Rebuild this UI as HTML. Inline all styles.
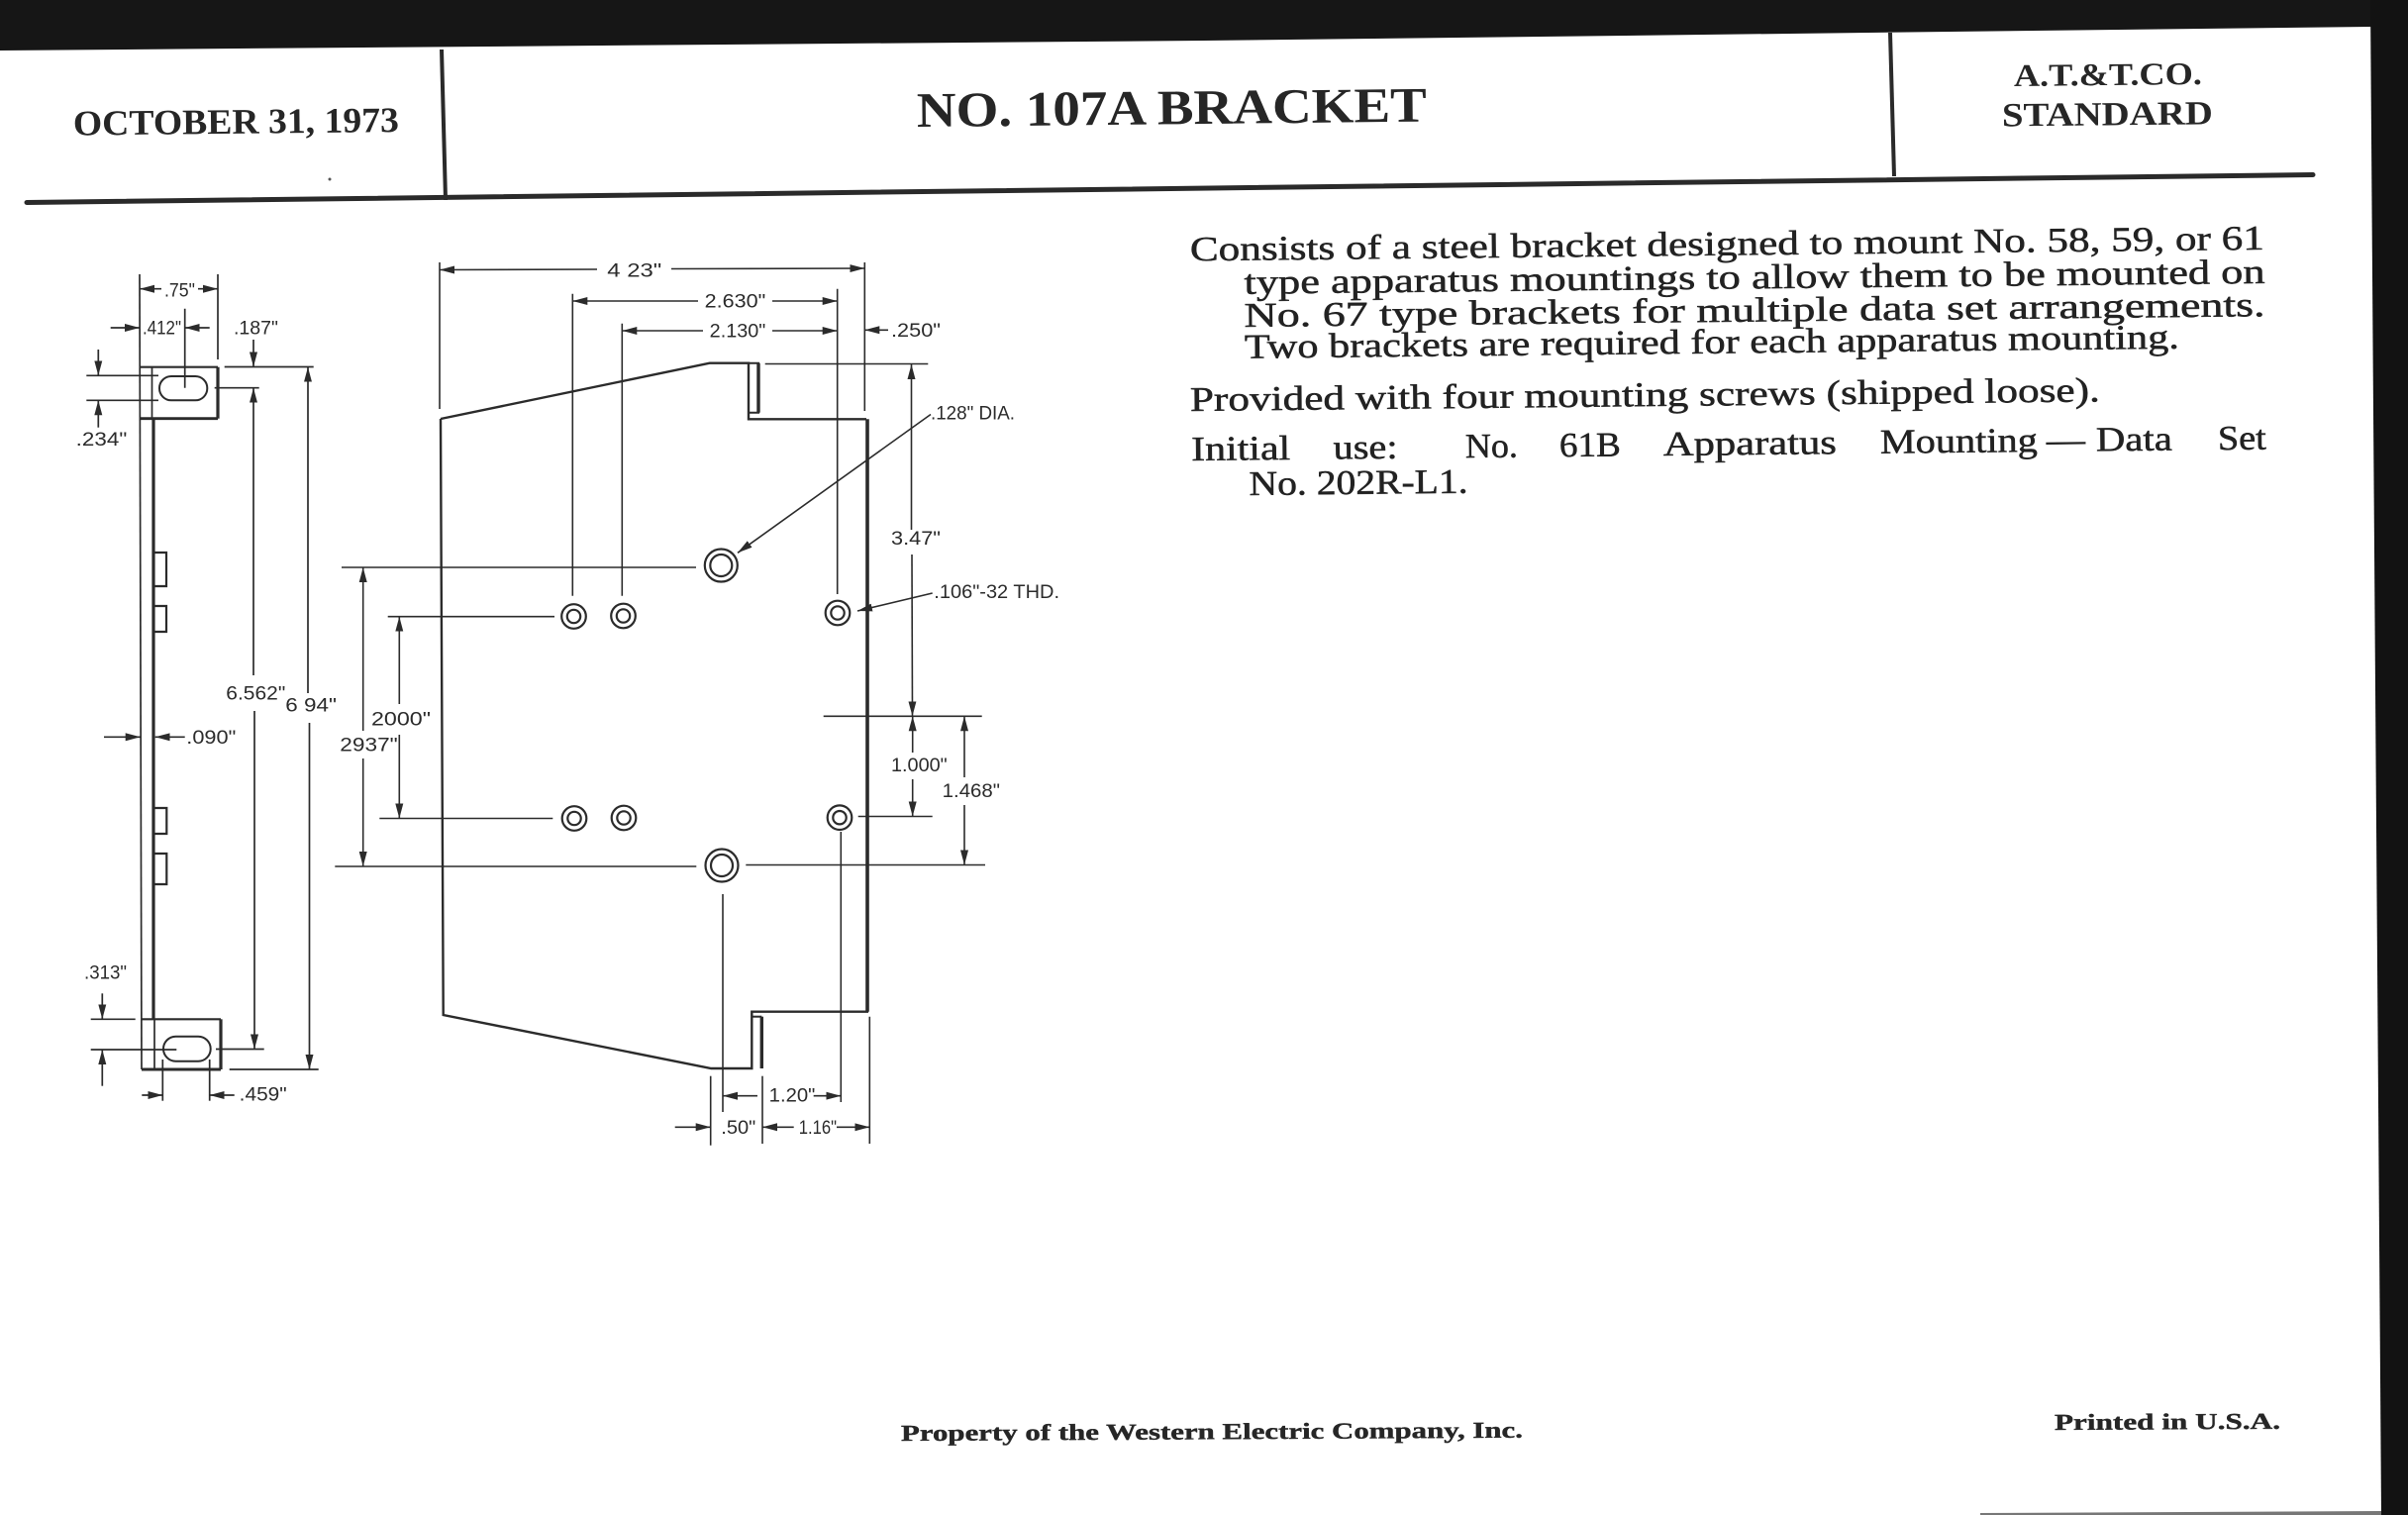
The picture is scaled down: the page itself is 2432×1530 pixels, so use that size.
<!DOCTYPE html>
<html>
<head>
<meta charset="utf-8">
<style>
html,body{margin:0;padding:0;background:#fff;}
body{width:2432px;height:1530px;overflow:hidden;}
svg{display:block;}
.dim{font-family:"Liberation Sans",Arial,sans-serif;font-size:19px;fill:#2b2b2b;}
.hdr{font-family:"Liberation Serif","Times New Roman",serif;font-weight:bold;fill:#262626;}
.body{font-family:"Liberation Serif","Times New Roman",serif;font-size:35px;fill:#222;stroke:#222;stroke-width:0.5px;}
</style>
</head>
<body>
<svg width="2432" height="1530" viewBox="0 0 2432 1530" xmlns="http://www.w3.org/2000/svg">
<defs>
<marker id="a" markerUnits="userSpaceOnUse" markerWidth="16" markerHeight="10" refX="15" refY="5" orient="auto">
<path d="M0,1 L15,5 L0,9 Z" fill="#2b2b2b"/>
</marker>
</defs>
<rect x="0" y="0" width="2432" height="1530" fill="#ffffff"/>

<!-- scan borders -->
<polygon points="0,0 2432,0 2432,27 2394,27 1216,41 0,51" fill="#161616"/>
<polygon points="2394,0 2432,0 2432,1530 2405,1530" fill="#121212"/>
<polygon points="2000,1528 2405,1526 2405,1530 2000,1530" fill="#777"/>

<!-- header -->
<line x1="27" y1="204.5" x2="2336" y2="176.5" stroke="#2a2a2a" stroke-width="5" stroke-linecap="round"/>
<line x1="446" y1="50" x2="450" y2="202" stroke="#2a2a2a" stroke-width="4"/>
<line x1="1909" y1="33" x2="1913" y2="178" stroke="#2a2a2a" stroke-width="4"/>
<circle cx="333" cy="181" r="1.5" fill="#555"/>

<text class="hdr" x="74" y="136.5" font-size="36" textLength="329" lengthAdjust="spacingAndGlyphs" transform="rotate(-0.6 74 136.5)">OCTOBER 31, 1973</text>
<text class="hdr" x="926" y="128" font-size="50" textLength="515" lengthAdjust="spacingAndGlyphs" transform="rotate(-0.6 926 128)">NO. 107A BRACKET</text>
<text class="hdr" x="2034" y="87" font-size="32" textLength="190" lengthAdjust="spacingAndGlyphs" transform="rotate(-0.6 2034 87)">A.T.&amp;T.CO.</text>
<text class="hdr" x="2022" y="127.5" font-size="34" textLength="213" lengthAdjust="spacingAndGlyphs" transform="rotate(-0.6 2022 127.5)">STANDARD</text>

<!-- description text -->
<text class="body" x="1202" y="263.3" textLength="1085" lengthAdjust="spacingAndGlyphs" transform="rotate(-0.6 1202 263.3)">Consists of a steel bracket designed to mount No. 58, 59, or 61</text>
<text class="body" x="1256.7" y="296.7" textLength="1031" lengthAdjust="spacingAndGlyphs" transform="rotate(-0.6 1256.7 296.7)">type apparatus mountings to allow them to be mounted on</text>
<text class="body" x="1256.7" y="330" textLength="1031" lengthAdjust="spacingAndGlyphs" transform="rotate(-0.6 1256.7 330)">No. 67 type brackets for multiple data set arrangements.</text>
<text class="body" x="1257" y="361.7" textLength="944" lengthAdjust="spacingAndGlyphs" transform="rotate(-0.6 1257 361.7)">Two brackets are required for each apparatus mounting.</text>
<text class="body" x="1202" y="415" textLength="919" lengthAdjust="spacingAndGlyphs" transform="rotate(-0.6 1202 415)">Provided with four mounting screws (shipped loose).</text>
<g transform="rotate(-0.6 1203 465)">
<text class="body" x="1203.3" y="465" textLength="100" lengthAdjust="spacingAndGlyphs">Initial</text>
<text class="body" x="1346.7" y="465" textLength="65" lengthAdjust="spacingAndGlyphs">use:</text>
<text class="body" x="1480" y="465" textLength="53" lengthAdjust="spacingAndGlyphs">No.</text>
<text class="body" x="1575" y="465" textLength="62" lengthAdjust="spacingAndGlyphs">61B</text>
<text class="body" x="1680" y="465" textLength="175" lengthAdjust="spacingAndGlyphs">Apparatus</text>
<text class="body" x="1899" y="465" textLength="159" lengthAdjust="spacingAndGlyphs">Mounting</text>
<text class="body" x="2067" y="465" textLength="39" lengthAdjust="spacingAndGlyphs">—</text>
<text class="body" x="2117" y="465" textLength="77" lengthAdjust="spacingAndGlyphs">Data</text>
<text class="body" x="2240" y="465" textLength="49" lengthAdjust="spacingAndGlyphs">Set</text>
</g>
<text class="body" x="1261.7" y="500" textLength="221" lengthAdjust="spacingAndGlyphs" transform="rotate(-0.6 1261.7 500)">No. 202R-L1.</text>

<!-- footer -->
<text class="hdr" x="910" y="1455" font-size="23" textLength="628" lengthAdjust="spacingAndGlyphs" stroke="#262626" stroke-width="0.4" transform="rotate(-0.3 910 1455)">Property of the Western Electric Company, Inc.</text>
<text class="hdr" x="2075" y="1444" font-size="23" textLength="228" lengthAdjust="spacingAndGlyphs" stroke="#262626" stroke-width="0.4" transform="rotate(-0.3 2075 1444)">Printed in U.S.A.</text>

<!-- ================= SIDE VIEW ================= -->
<g stroke="#2b2b2b" fill="none" stroke-width="1.7">
<path d="M141 277 L143 1080"/>
<path d="M220 277 V363"/>
<path d="M186.7 311.7 V391.7"/>
<path d="M141 370.7 H220" stroke-width="2.2"/>
<path d="M220 370.7 V422.7" stroke-width="3.2"/>
<path d="M141 422.7 H220" stroke-width="2.8"/>
<path d="M153.5 370.7 V422.7"/>
<path d="M155 422.7 V1029.3" stroke-width="3.2"/>
<path d="M156 1029.3 V1080"/>
<path d="M143 1029.3 H223" stroke-width="2.2"/>
<path d="M223 1029.3 V1080" stroke-width="3.2"/>
<path d="M143 1080 H223" stroke-width="3"/>
<rect x="161" y="380" width="48.3" height="24.3" rx="12" stroke-width="2"/>
<rect x="165" y="1046.7" width="47.7" height="25" rx="12.5" stroke-width="2"/>
<path d="M155 558 H168 V592 H155" stroke-width="2.2"/>
<path d="M155 612 H168 V638 H155" stroke-width="2.2"/>
<path d="M156 816 H168.3 V842 H156" stroke-width="2.2"/>
<path d="M156 862 H168.3 V893 H156" stroke-width="2.2"/>
<!-- extension lines -->
<path d="M87.3 379.3 H160"/>
<path d="M87.3 404.3 H160"/>
<path d="M216.7 391.7 H261.7"/>
<path d="M226.7 370.5 H316.7"/>
<path d="M91.7 1029.3 H136.7"/>
<path d="M91.7 1060 H178.3"/>
<path d="M218 1059.5 H266.7"/>
<path d="M231.7 1080 H321.7"/>
<path d="M164.3 1070 V1111.7"/>
<path d="M211.7 1070 V1111.7"/>
</g>
<g stroke="#2b2b2b" fill="none" stroke-width="1.7" marker-end="url(#a)">
<line x1="163" y1="291.7" x2="141" y2="291.7"/>
<line x1="200" y1="291.7" x2="220" y2="291.7"/>
<line x1="111.7" y1="331" x2="141" y2="331"/>
<line x1="211.7" y1="331" x2="186.7" y2="331"/>
<line x1="256" y1="343" x2="256" y2="370.5"/>
<line x1="99.3" y1="353" x2="99.3" y2="379.3"/>
<line x1="99.3" y1="431.7" x2="99.3" y2="404.3"/>
<line x1="256" y1="682" x2="256" y2="391.7"/>
<line x1="257" y1="718" x2="257" y2="1059.5"/>
<line x1="311" y1="700" x2="311" y2="370.7"/>
<line x1="312.5" y1="730" x2="312.5" y2="1080"/>
<line x1="105" y1="744.3" x2="141.7" y2="744.3"/>
<line x1="186.7" y1="744.3" x2="156.7" y2="744.3"/>
<line x1="103.3" y1="1003.3" x2="103.3" y2="1029.3"/>
<line x1="103.3" y1="1096.7" x2="103.3" y2="1060"/>
<line x1="143.3" y1="1106" x2="164.3" y2="1106"/>
<line x1="236.7" y1="1106" x2="211.7" y2="1106"/>
</g>
<text class="dim" x="166" y="299.3" textLength="31" lengthAdjust="spacingAndGlyphs">.75"</text>
<text class="dim" x="144" y="337.3" textLength="39" lengthAdjust="spacingAndGlyphs">.412"</text>
<text class="dim" x="236" y="337.3" textLength="45" lengthAdjust="spacingAndGlyphs">.187"</text>
<text class="dim" x="76.7" y="450" textLength="51.6" lengthAdjust="spacingAndGlyphs">.234"</text>
<text class="dim" x="228.3" y="706.7" textLength="60" lengthAdjust="spacingAndGlyphs">6.562"</text>
<text class="dim" x="288.3" y="718.3" textLength="51.7" lengthAdjust="spacingAndGlyphs">6 94"</text>
<text class="dim" x="188.3" y="751" textLength="50" lengthAdjust="spacingAndGlyphs">.090"</text>
<text class="dim" x="85" y="988.3" textLength="43" lengthAdjust="spacingAndGlyphs">.313"</text>
<text class="dim" x="241.7" y="1111.7" textLength="48" lengthAdjust="spacingAndGlyphs">.459"</text>

<!-- ================= MAIN VIEW ================= -->
<g stroke="#2b2b2b" fill="none" stroke-width="2.4" stroke-linejoin="miter">
<path d="M445 423 L716.7 366.7 H756 V423.3 H875"/>
<path d="M877 1021.7 H759.3 V1079 H718.3 L447.7 1025 L445 423"/>
<path d="M876 423.3 V1021.7" stroke-width="3.6"/>
<path d="M756 366.7 H766 V416.7 H756" stroke-width="2"/>
<path d="M766 366.7 V416.7" stroke-width="3.4"/>
<path d="M759.3 1026.7 H769.3" stroke-width="2"/>
<path d="M769.3 1026.7 V1079" stroke-width="3.4"/>
</g>
<g stroke="#2b2b2b" fill="none" stroke-width="2.2">
<circle cx="728.3" cy="571" r="16.5"/>
<circle cx="728.3" cy="571" r="11"/>
<circle cx="729" cy="874" r="16.5"/>
<circle cx="729" cy="874" r="11"/>
<circle cx="579.5" cy="622.5" r="12.3"/>
<circle cx="579.5" cy="622.5" r="6.7"/>
<circle cx="629.5" cy="622" r="12.3"/>
<circle cx="629.5" cy="622" r="6.7"/>
<circle cx="846" cy="619" r="12.3"/>
<circle cx="846" cy="619" r="6.7"/>
<circle cx="580" cy="826.5" r="12.3"/>
<circle cx="580" cy="826.5" r="6.7"/>
<circle cx="630" cy="826" r="12.3"/>
<circle cx="630" cy="826" r="6.7"/>
<circle cx="848" cy="825.7" r="12.3"/>
<circle cx="848" cy="825.7" r="6.7"/>
</g>
<g stroke="#2b2b2b" fill="none" stroke-width="1.6">
<path d="M444 265 V413"/>
<path d="M873.3 265 V415"/>
<path d="M578.3 296.7 V601.7"/>
<path d="M628.3 326.7 V601.7"/>
<path d="M845.7 291.7 V600"/>
<path d="M772.7 367.5 H937.3"/>
<path d="M345 573 H703"/>
<path d="M391.7 622.7 H560"/>
<path d="M383.3 826.5 H558.3"/>
<path d="M338.3 875 H703.3"/>
<path d="M753.3 873.5 H995"/>
<path d="M831.7 723.3 H991.7"/>
<path d="M866.7 824.5 H941.7"/>
<path d="M730 903 V1123"/>
<path d="M849.3 840 V1113"/>
<path d="M717.7 1086.7 V1156.7"/>
<path d="M770 1086.7 V1155"/>
<path d="M878.3 1026.7 V1155"/>
</g>
<g stroke="#2b2b2b" fill="none" stroke-width="1.6" marker-end="url(#a)">
<line x1="603" y1="272" x2="444" y2="272.5"/>
<line x1="678" y1="271.5" x2="873.3" y2="271"/>
<line x1="705" y1="304" x2="578.3" y2="304"/>
<line x1="780" y1="304" x2="845.7" y2="304"/>
<line x1="710" y1="334" x2="628.3" y2="334"/>
<line x1="780" y1="334" x2="845.7" y2="334"/>
<line x1="897" y1="333.3" x2="873.3" y2="333.3"/>
<line x1="920.5" y1="535" x2="920.5" y2="368"/>
<line x1="921" y1="560" x2="921.5" y2="723.3"/>
<line x1="921.7" y1="760" x2="921.7" y2="723.3"/>
<line x1="921.7" y1="787" x2="921.7" y2="824.5"/>
<line x1="974" y1="785" x2="974" y2="723.3"/>
<line x1="974" y1="813" x2="974" y2="873.5"/>
<line x1="366.7" y1="738" x2="366.7" y2="573"/>
<line x1="366.7" y1="766" x2="366.7" y2="875"/>
<line x1="403.3" y1="711" x2="403.3" y2="622.7"/>
<line x1="403.3" y1="742" x2="403.3" y2="826.5"/>
<line x1="765" y1="1106.7" x2="730" y2="1106.7"/>
<line x1="821.7" y1="1106.7" x2="849.3" y2="1106.7"/>
<line x1="681.7" y1="1138.3" x2="717.7" y2="1138.3"/>
<line x1="801.7" y1="1138.3" x2="770" y2="1138.3"/>
<line x1="845" y1="1138.3" x2="878.3" y2="1138.3"/>
<line x1="940" y1="418.5" x2="745" y2="558.3"/>
<line x1="941.7" y1="599" x2="866" y2="617"/>
</g>
<text class="dim" x="613.3" y="279.3" textLength="55" lengthAdjust="spacingAndGlyphs">4 23"</text>
<text class="dim" x="711.7" y="310.7" textLength="61.6" lengthAdjust="spacingAndGlyphs">2.630"</text>
<text class="dim" x="716.7" y="340.7" textLength="56.6" lengthAdjust="spacingAndGlyphs">2.130"</text>
<text class="dim" x="900" y="340" textLength="50" lengthAdjust="spacingAndGlyphs">.250"</text>
<text class="dim" x="940" y="423.3" textLength="85" lengthAdjust="spacingAndGlyphs">.128" DIA.</text>
<text class="dim" x="900" y="550" textLength="50" lengthAdjust="spacingAndGlyphs">3.47"</text>
<text class="dim" x="943.3" y="604" textLength="126.7" lengthAdjust="spacingAndGlyphs">.106"-32 THD.</text>
<text class="dim" x="375" y="732.3" textLength="60" lengthAdjust="spacingAndGlyphs">2000"</text>
<text class="dim" x="343.3" y="758.3" textLength="58.4" lengthAdjust="spacingAndGlyphs">2937"</text>
<text class="dim" x="900" y="779" textLength="56.7" lengthAdjust="spacingAndGlyphs">1.000"</text>
<text class="dim" x="951.7" y="805" textLength="58.3" lengthAdjust="spacingAndGlyphs">1.468"</text>
<text class="dim" x="776.7" y="1112.7" textLength="46.7" lengthAdjust="spacingAndGlyphs">1.20"</text>
<text class="dim" x="728.3" y="1145" textLength="35" lengthAdjust="spacingAndGlyphs">.50"</text>
<text class="dim" x="806.7" y="1145" textLength="38.3" lengthAdjust="spacingAndGlyphs">1.16"</text>
</svg>
</body>
</html>
